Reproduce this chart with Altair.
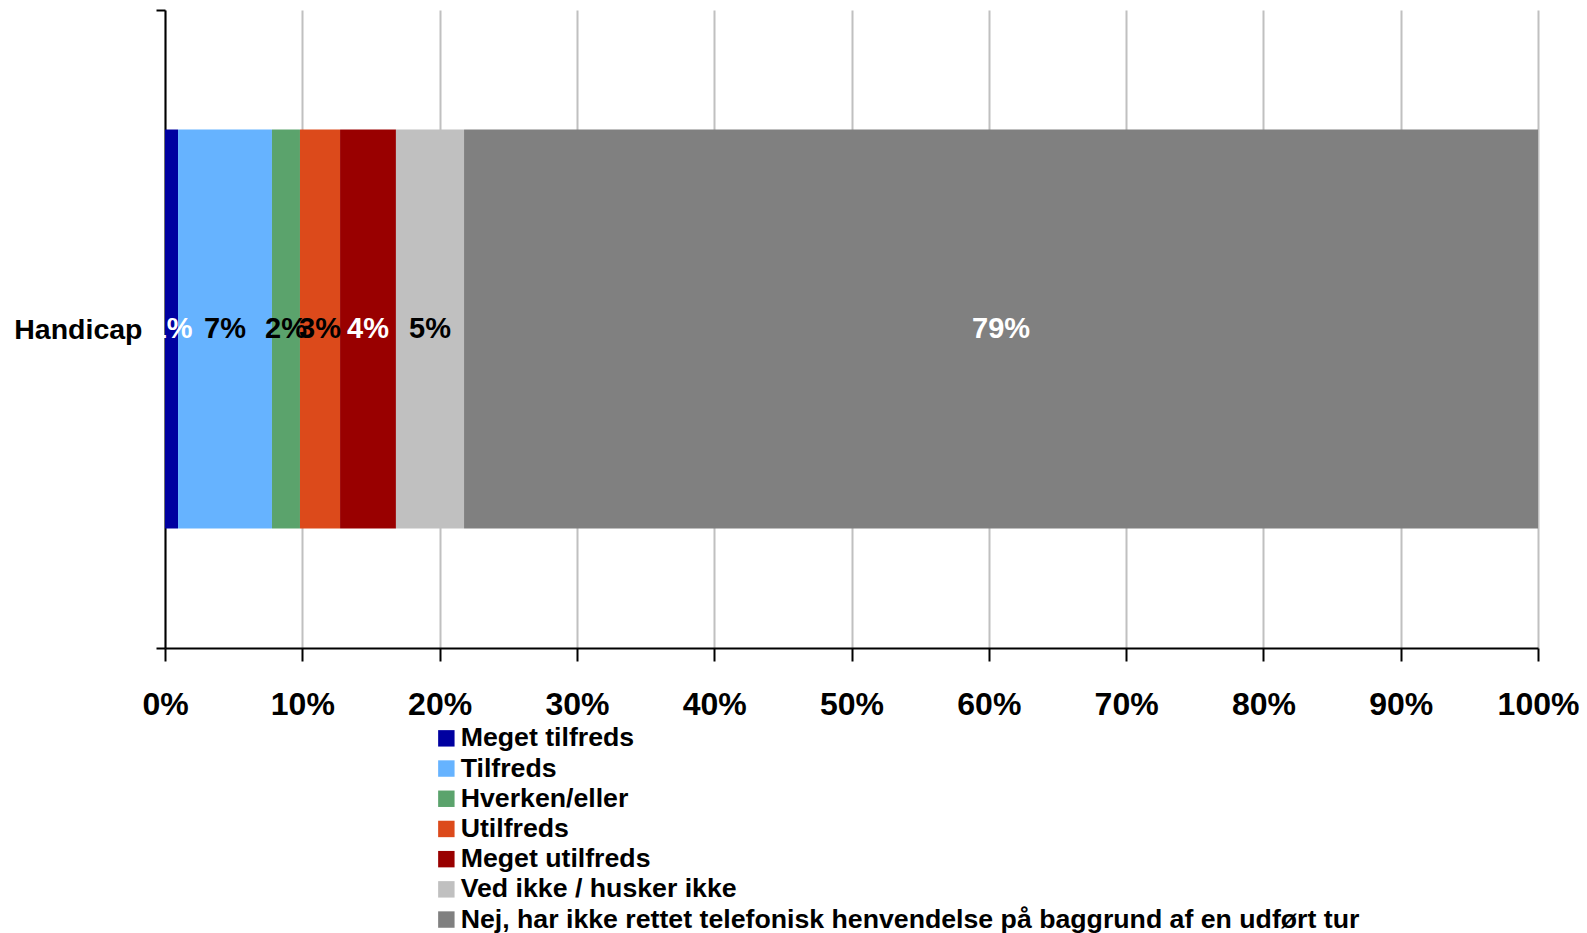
import altair as alt
import pandas as pd

categories = ["Meget tilfreds", "Tilfreds", "Hverken/eller", "Utilfreds",
              "Meget utilfreds", "Ved ikke / husker ikke",
              "Nej, har ikke rettet telefonisk henvendelse på baggrund af en udført tur"]
values = [0.95, 6.84, 2.04, 2.92, 4.07, 4.96, 78.22]
labels = ["1%", "7%", "2%", "3%", "4%", "5%", "79%"]
colors = ["#0000A0", "#66B3FF", "#5BA36C", "#DC4A1B", "#990000", "#C0C0C0", "#808080"]
label_colors = ["white", "black", "black", "black", "white", "black", "white"]
group = "Handicap"

rows = []
start = 0.0
for i, (c, v) in enumerate(zip(categories, values)):
    rows.append({"cat": c, "order": i, "start": start, "end": start + v,
                 "mid": start + v / 2, "label": labels[i], "lcol": label_colors[i],
                 "grp": group})
    start += v
df = pd.DataFrame(rows)

FONT = "Liberation Sans"

x_enc = alt.X("start:Q", scale=alt.Scale(domain=[0, 100], nice=False),
              axis=alt.Axis(values=list(range(0, 101, 10)),
                            labelExpr="datum.value + '%'",
                            title=None, grid=True, gridColor="#C0C0C0", gridWidth=2,
                            domainColor="black", domainWidth=2,
                            tickColor="black", tickWidth=2, tickSize=13,
                            labelFont=FONT, labelFontSize=32, labelFontWeight="bold",
                            labelColor="black", labelPadding=28, labelFlush=False))
y_enc = alt.Y("grp:N", scale=alt.Scale(paddingInner=0, paddingOuter=0),
              axis=alt.Axis(title=None, tickBand="extent", grid=False,
                            domainColor="black", domainWidth=2,
                            tickColor="black", tickWidth=2, tickSize=9,
                            labelFont=FONT, labelFontSize=28.5, labelFontWeight="bold",
                            labelColor="black", labelPadding=14))

bars = alt.Chart(df).mark_bar(size=399).encode(
    x=x_enc,
    x2="end:Q",
    y=y_enc,
    color=alt.Color("cat:N", scale=alt.Scale(domain=categories, range=colors),
                    legend=alt.Legend(title=None, orient="none", legendX=268, legendY=715,
                                      direction="vertical", symbolType="square",
                                      symbolSize=270, symbolStrokeWidth=0,
                                      labelFont=FONT, labelFontSize=26.7,
                                      labelFontWeight="bold", labelColor="black",
                                      labelLimit=1200, rowPadding=2.2, padding=0,
                                      labelOffset=1)),
    order="order:Q",
)

texts = alt.Chart(df).mark_text(font=FONT, fontSize=29, fontWeight="bold",
                                baseline="middle", align="center").encode(
    x="mid:Q",
    y="grp:N",
    text="label:N",
    color=alt.Color("lcol:N", scale=None),
)

chart = alt.layer(bars, texts).properties(
    width=1373, height=638,
    autosize=alt.AutoSizeParams(type="none"),
    padding={"left": 157, "top": 2, "right": 41, "bottom": 285},
).configure_view(stroke=None)

chart.save("out.html", embed_options={"renderer": "svg", "actions": False})
